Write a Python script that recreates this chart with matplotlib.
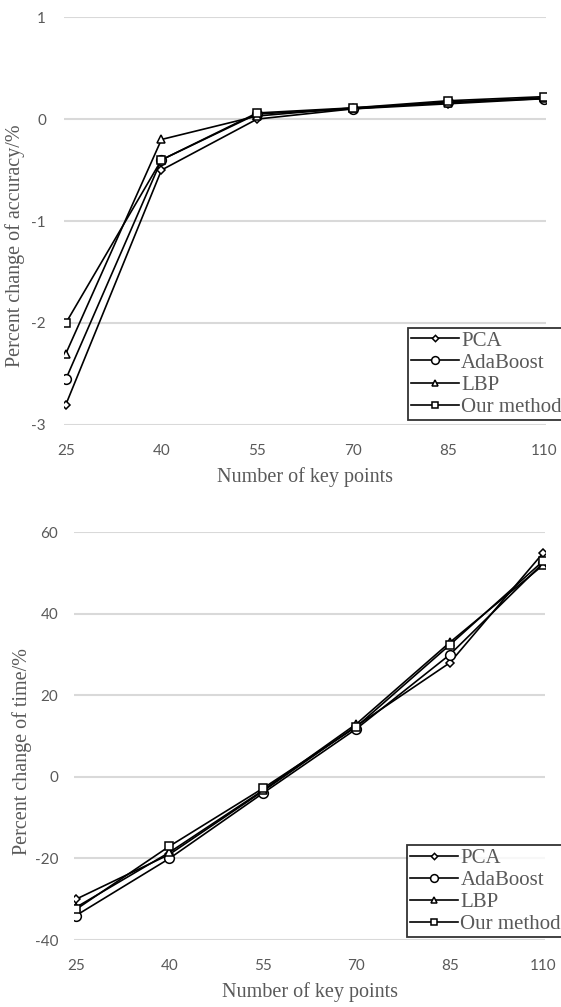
import numpy as np
import matplotlib.pyplot as plt

plt.rcParams['font.family'] = ['Liberation Serif', 'DejaVu Serif']
plt.rcParams['axes.unicode_minus'] = False

key_points = ['25', '40', '55', '70', '85', '110']
methods = ['PCA', 'AdaBoost', 'LBP', 'Our method']
markers = ['D', 'o', '^', 's']
msizes = [4, 7, 6, 5.5]

# percent change of accuracy /%
acc_pca = [-2.8, -0.5, 0.0, 0.1, 0.15, 0.2]
acc_ada = [-2.55, -0.4, 0.05, 0.1, 0.17, 0.2]
acc_lbp = [-2.3, -0.2, 0.03, 0.11, 0.16, 0.21]
acc_our = [-2.0, -0.4, 0.06, 0.11, 0.18, 0.22]

# percent change of time /%
time_pca = [-30, -19, -3.5, 12.5, 28, 55]
time_ada = [-34, -20, -4, 11.8, 30, 52.5]
time_lbp = [-32, -18.5, -3.3, 13, 33, 52]
time_our = [-32.5, -17, -2.8, 12.3, 32.4, 53]

grey = '#595959'


def draw(ax, series, ylim, yticks, ylabel, leg_anchor, ypad, label_xy):
    x = np.arange(len(key_points))
    for vals, name, m, ms in zip(series, methods, markers, msizes):
        ax.plot(x, vals, color='black', lw=1.2, marker=m, ms=ms,
                mfc='white', mec='black', mew=1.1, label=name, zorder=3)
    ax.set_ylim(*ylim)
    ax.set_xlim(-0.02, len(key_points) - 1 + 0.02)
    ax.set_yticks(yticks)
    ax.set_xticks(x)
    ax.set_xticklabels(key_points)
    ax.grid(axis='y', color='#d9d9d9', lw=1.5)
    ax.set_axisbelow(True)
    for s in ax.spines.values():
        s.set_visible(False)
    ax.tick_params(length=0, labelsize=11, colors=grey)
    ax.tick_params(axis='x', pad=14)
    ax.tick_params(axis='y', pad=ypad)
    for lab in ax.get_xticklabels() + ax.get_yticklabels():
        lab.set_family(['Lato', 'DejaVu Sans'])
    ax.set_xlabel('Number of key points', fontsize=14.5, color=grey, labelpad=6)
    ax.set_ylabel(ylabel, fontsize=14.5, color=grey)
    ax.yaxis.set_label_coords(*label_xy)
    leg = ax.legend(loc='lower left', bbox_to_anchor=leg_anchor, fontsize=15,
                    frameon=True, fancybox=False, edgecolor='black',
                    handlelength=2.3, handletextpad=0.1, borderpad=0.15,
                    labelspacing=0.12, borderaxespad=0, markerscale=0.8)
    leg.get_frame().set_linewidth(1.3)
    for t in leg.get_texts():
        t.set_color(grey)


fig = plt.figure(figsize=(5.61, 10.07), dpi=100)
ax1 = fig.add_axes([0.114, 0.578, 0.859, 0.405])
ax2 = fig.add_axes([0.132, 0.0665, 0.840, 0.405])

draw(ax1, [acc_pca, acc_ada, acc_lbp, acc_our], (-3, 1), [-3, -2, -1, 0, 1],
     'Percent change of accuracy/%', (0.714, 0.012), 13, (-0.081, 0.44))
draw(ax2, [time_pca, time_ada, time_lbp, time_our], (-40, 60),
     [-40, -20, 0, 20, 40, 60], 'Percent change of time/%', (0.707, 0.007),
     11.5, (-0.089, 0.462))

fig.savefig('out.png', dpi=100)
